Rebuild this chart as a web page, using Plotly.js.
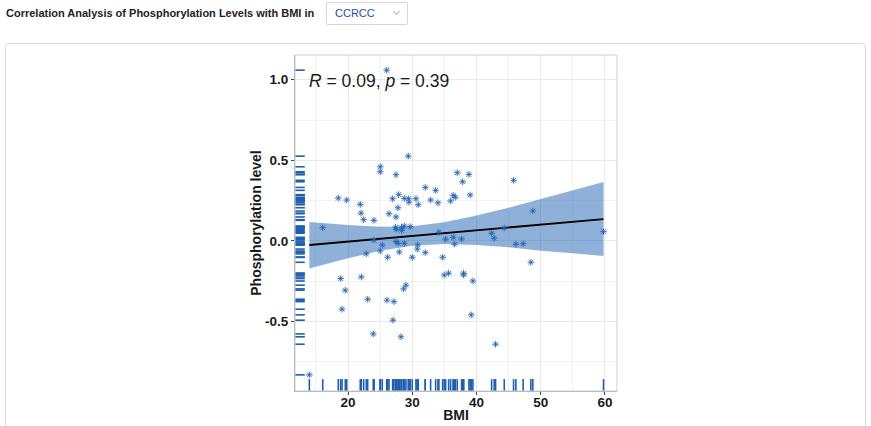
<!DOCTYPE html>
<html>
<head>
<meta charset="utf-8">
<script src="https://cdn.plot.ly/plotly-3.0.1.min.js"></script>
<style>
  html, body { margin:0; padding:0; background:#fff; width:871px; height:426px; overflow:hidden; }
  #hdr { position:absolute; left:6px; top:7px; font:bold 11px "Liberation Sans", Arial, sans-serif; color:#222; white-space:nowrap; line-height:13px; }
  #sel { position:absolute; left:326px; top:2px; width:82px; height:23px; border:1px solid #d6d6d6; border-radius:2px; background:#fff; box-sizing:border-box; }
  #sel span { position:absolute; left:8px; top:4px; font:11px "Liberation Sans", Arial, sans-serif; color:#2b4f9e; line-height:13px; }
  #sel i { position:absolute; left:67px; top:6px; width:4px; height:4px; border-right:1px solid #b5b5b5; border-bottom:1px solid #b5b5b5; transform:rotate(45deg); }
  #card { position:absolute; left:5px; top:43px; width:861px; height:420px; border:1px solid #dcdcdc; border-radius:4px; box-sizing:border-box; background:#fff; }
  #plot { position:absolute; left:0; top:0; width:871px; height:426px; }
</style>
</head>
<body>
<div id="hdr">Correlation Analysis of Phosphorylation Levels with BMI in</div>
<div id="sel"><span>CCRCC</span><i></i></div>
<div id="card"></div>
<div id="plot"></div>
<script>
// ---- data ----
var bmi = [26.02, 13.98, 16.07, 18.49, 19.80, 21.91, 22.02, 22.44, 24.04, 25.02,
           25.02, 24.04, 22.85, 25.02, 25.33, 18.86, 22.07, 19.58, 23.06, 19.07,
           23.93, 29.38, 27.47, 26.95, 27.88, 28.76, 29.44, 29.49, 30.58, 30.93,
           27.78, 26.38, 27.47, 27.42, 27.51, 28.35, 28.76, 28.35, 29.69, 27.47,
           27.82, 28.76, 27.98, 26.17, 30.00, 30.84, 30.78, 29.02, 28.66, 26.07,
           27.15, 27.00, 28.24, 37.00, 38.82, 37.84, 32.02, 33.64, 32.86, 34.00,
           35.97, 36.38, 36.70, 39.02, 34.15, 35.19, 36.38, 36.59, 37.68, 32.02,
           34.73, 34.98, 35.66, 37.99, 37.99, 39.44, 39.18, 45.77, 48.77, 44.32,
           42.35, 42.75, 46.13, 47.26, 48.46, 59.77, 42.97];
var phospho = [1.059, -0.830, 0.082, 0.266, 0.254, 0.227, 0.173, 0.132, 0.128, 0.460,
               0.429, 0.006, -0.080, -0.062, -0.025, -0.233, -0.223, -0.305, -0.361, -0.423,
               -0.576, 0.526, 0.411, 0.262, 0.287, 0.264, 0.262, 0.241, 0.262, 0.225,
               0.206, 0.169, 0.149, 0.085, 0.072, 0.085, 0.093, 0.066, 0.089, -0.004,
               -0.014, -0.014, -0.068, -0.101, -0.101, -0.025, -0.050, -0.274, -0.297, -0.367,
               -0.376, -0.491, -0.594, 0.423, 0.413, 0.367, 0.332, 0.314, 0.254, 0.237,
               0.248, 0.283, 0.271, 0.285, 0.054, 0.011, 0.023, -0.020, 0.012, -0.072,
               -0.101, -0.211, -0.200, -0.200, -0.211, -0.248, -0.458, 0.376, 0.186, 0.080,
               0.048, 0.017, -0.020, -0.017, -0.132, 0.058, -0.640];

// fitted line and confidence band, read at several BMI values
var fitBmi  = [13.98, 20, 25, 30, 35, 40, 45, 50, 55, 59.77];
var fitLine = [-0.025, -0.004, 0.014, 0.031, 0.049, 0.066, 0.084, 0.101, 0.119, 0.136];
var ciLow   = [-0.170, -0.107, -0.061, -0.029, -0.019, -0.025, -0.039, -0.060, -0.076, -0.093];
var ciHigh  = [0.118, 0.099, 0.089, 0.092, 0.116, 0.158, 0.206, 0.260, 0.312, 0.365];

var xTickVals = [20, 30, 40, 50, 60];
var yTickVals = [-0.5, 0, 0.5, 1.0];
var yTickText = ['-0.5', '0.0', '0.5', '1.0'];
var statLabel = '<i>R</i> = 0.09, <i>p</i> = 0.39';

var xRange = [11.75, 61.87];
var yRange = [-0.93, 1.153];

var blue = '#2563b0';
var rugBlue = '#1f5fb0';
var font = '"Liberation Sans", Arial, sans-serif';

var traces = [
  { x: fitBmi, y: ciLow, type: 'scatter', mode: 'lines', line: {width: 0, color: 'rgba(0,0,0,0)'}, hoverinfo: 'skip' },
  { x: fitBmi, y: ciHigh, type: 'scatter', mode: 'lines', line: {width: 0, color: 'rgba(0,0,0,0)'},
    fill: 'tonexty', fillcolor: 'rgba(31,99,179,0.5)', hoverinfo: 'skip' },
  { x: fitBmi, y: fitLine, type: 'scatter', mode: 'lines', line: {width: 1.8, color: '#000'} },
  { x: bmi, y: phospho, type: 'scatter', mode: 'markers',
    marker: {symbol: 'asterisk-open', size: 5.5, color: blue, line: {width: 0.9, color: blue}} },
  // rug along the bottom (x values)
  { x: bmi, y: bmi.map(function(){ return yRange[0]; }), type: 'scatter', mode: 'markers', cliponaxis: true,
    marker: {symbol: 'line-ns-open', size: 17, color: rugBlue, line: {width: 1.6, color: rugBlue}} },
  // rug along the left (y values)
  { x: phospho.map(function(){ return xRange[0]; }), y: phospho, type: 'scatter', mode: 'markers', cliponaxis: true,
    marker: {symbol: 'line-ew-open', size: 14, color: rugBlue, line: {width: 1.6, color: rugBlue}} }
];

var axisFont = {family: font, size: 13.5, color: '#1a1a1a', weight: 'bold'};

var layout = {
  width: 871, height: 426,
  margin: {l: 295, r: 254, t: 55, b: 35, pad: 0},
  paper_bgcolor: 'rgba(0,0,0,0)',
  plot_bgcolor: '#ffffff',
  showlegend: false,
  hovermode: false,
  font: {family: font},
  xaxis: {
    range: xRange, tickmode: 'array', tickvals: xTickVals,
    ticks: 'outside', ticklen: 3, tickwidth: 1, tickcolor: '#444',
    tickfont: axisFont, ticklabelstandoff: -4,
    showgrid: true, gridcolor: '#e8e8e8', gridwidth: 1,
    minor: {tickmode: 'linear', tick0: 15, dtick: 10, showgrid: true, gridcolor: '#f2f2f2', gridwidth: 1},
    zeroline: false, showline: true, linecolor: '#a6a6a6', linewidth: 1,
    title: {text: 'BMI', font: {family: font, size: 14, color: '#1a1a1a', weight: 'bold'}, standoff: 0},
    automargin: false
  },
  yaxis: {
    range: yRange, tickmode: 'array', tickvals: yTickVals, ticktext: yTickText,
    ticks: 'outside', ticklen: 3, tickwidth: 1, tickcolor: '#444',
    tickfont: axisFont,
    showgrid: true, gridcolor: '#e8e8e8', gridwidth: 1,
    minor: {tickmode: 'linear', tick0: 0.25, dtick: 0.5, showgrid: true, gridcolor: '#f2f2f2', gridwidth: 1},
    zeroline: false, showline: true, linecolor: '#a6a6a6', linewidth: 1,
    title: {text: 'Phosphorylation level', font: {family: font, size: 14, color: '#1a1a1a', weight: 'bold'}, standoff: 0},
    automargin: false
  },
  shapes: [
    {type: 'rect', xref: 'paper', yref: 'paper', x0: 0, x1: 1, y0: 0, y1: 1,
     line: {color: '#cfcfcf', width: 1}, fillcolor: 'rgba(0,0,0,0)', layer: 'above'}
  ],
  annotations: [
    {text: statLabel, xref: 'paper', yref: 'paper', x: 0.036, y: 0.924,
     xanchor: 'left', yanchor: 'middle', showarrow: false,
     font: {family: font, size: 17.5, color: '#1a1a1a'}}
  ]
};

Plotly.newPlot('plot', traces, layout, {staticPlot: true, displayModeBar: false});
</script>
</body>
</html>
